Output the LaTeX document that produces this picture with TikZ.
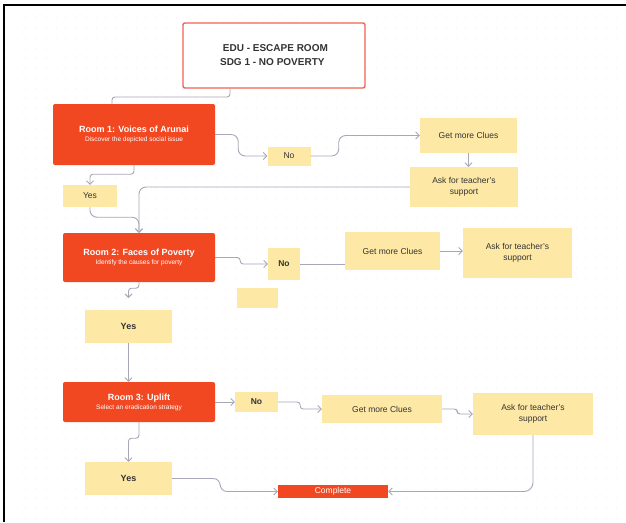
\documentclass[tikz,border=0pt]{standalone}
\usepackage{fontspec}
\setmainfont{Liberation Sans}
\usetikzlibrary{arrows.meta}
\definecolor{fred}{HTML}{F24822}
\definecolor{fyel}{HTML}{FDE8A5}
\definecolor{fline}{HTML}{A6A8B8}
\definecolor{ftitle}{HTML}{EE6352}
\definecolor{ftext}{HTML}{333333}
\begin{document}
\begin{tikzpicture}[x=1pt,y=-1pt,
  roombox/.style={fill=fred,rounded corners=2pt,inner sep=0pt,text=white,align=center,font=\fontsize{9}{10}\selectfont\bfseries},
  stickbox/.style={fill=fyel,inner sep=0pt,text=ftext,align=center,font=\fontsize{8.5}{11}\selectfont},
  conn/.style={draw=fline,line width=0.9pt,rounded corners=7pt},
  arr/.style={conn,-{Straight Barb[length=3.5pt,width=7pt,line width=0.9pt]}},
  tight/.style={rounded corners=3pt}]
\useasboundingbox (0,0) rectangle (626,522);
\fill[white] (0,0) rectangle (626,522);
% dot grid
\foreach \i in {0,...,61}{\foreach \j in {0,...,51}{\fill[black!13] (6+\i*10,8+\j*10) circle (0.5);}}
% frame (top and left edges)
\draw[black,line width=2.2pt] (626,5) -- (4,5) -- (4,522);
% nodes
\node[draw=ftitle,line width=1.4pt,fill=white,rounded corners=2pt,minimum width=182pt,minimum height=65pt,align=left,text=ftext,font=\fontsize{10}{14}\selectfont\bfseries] (title) at (274,55.5) {\ EDU - ESCAPE ROOM\\SDG 1 - NO POVERTY};
\node[roombox,minimum width=162pt,minimum height=61pt] (r1) at (134,134.5) {Room 1: Voices of Arunai\\[-1pt]{\fontsize{6.5}{7.5}\selectfont\mdseries Discover the depicted social issue}};
\node[stickbox,minimum width=43pt,minimum height=19pt] (no1) at (289,156) {No};
\node[stickbox,minimum width=97pt,minimum height=35pt] (get1) at (468.5,135.5) {Get more Clues};
\node[stickbox,minimum width=108pt,minimum height=40pt] (ask1) at (464,187) {Ask for teacher's\\support};
\node[stickbox,minimum width=54pt,minimum height=22pt] (yes1) at (90,196) {Yes};
\node[roombox,minimum width=152pt,minimum height=49pt] (r2) at (139,257.5) {Room 2: Faces of Poverty\\[-1pt]{\fontsize{6.5}{7.5}\selectfont\mdseries Identify the causes for poverty}};
\node[stickbox,minimum width=32pt,minimum height=32pt,font=\fontsize{8.5}{11}\selectfont\bfseries] (no2) at (284,264) {No};
\node[stickbox,minimum width=41pt,minimum height=20pt] (empty) at (257.5,298) {};
\node[stickbox,minimum width=95pt,minimum height=38pt] (get2) at (392.5,251) {Get more Clues};
\node[stickbox,minimum width=109pt,minimum height=50pt] (ask2) at (517.5,253) {Ask for teacher's\\support};
\node[stickbox,minimum width=87pt,minimum height=33pt,font=\fontsize{9}{11}\selectfont\bfseries] (yes2) at (128.5,326.5) {Yes};
\node[roombox,minimum width=152pt,minimum height=40pt] (r3) at (139,402) {Room 3: Uplift\\[-1pt]{\fontsize{6.5}{7.5}\selectfont\mdseries Select an eradication strategy}};
\node[stickbox,minimum width=43pt,minimum height=20pt,font=\fontsize{8.5}{11}\selectfont\bfseries] (no3) at (256.5,402) {No};
\node[stickbox,minimum width=120pt,minimum height=28pt] (get3) at (382,409) {Get more Clues};
\node[stickbox,minimum width=120pt,minimum height=42pt] (ask3) at (533,414) {Ask for teacher's\\support};
\node[stickbox,minimum width=87pt,minimum height=33pt,font=\fontsize{9}{11}\selectfont\bfseries] (yes3) at (128.5,478.5) {Yes};
\node[fill=fred,inner sep=0pt,minimum width=110pt,minimum height=13pt,text=white,font=\fontsize{8.5}{10}\selectfont] (complete) at (333,491.5) {Complete};
% helper coordinates
\coordinate (t1) at (112,97);
\coordinate (a2) at (128.5,298);
% connectors
\draw[conn,tight] ([xshift=-44pt]title.south) |- (t1) -- (t1 |- r1.north);
\draw[arr] (r1.east) -- ++(23,0) |- (no1.west);
\draw[arr] (no1.east) -- ++(28,0) |- (get1.west);
\draw[arr,rounded corners=0pt] (get1.south) -- (ask1.north -| get1.south);
\draw[arr] (ask1.west) -| (r2.north);
\draw[arr,tight] (r1.south) -- ++(0,9) -| (yes1.north);
\draw[arr] (yes1.south) -- ++(0,10) -| (r2.north);
\draw[arr,tight] (r2.east) -- ++(25,0) |- (no2.west);
\draw[conn] (no2.east) -- (no2.east -| get2.west);
\draw[arr] (get2.east) -- (get2.east -| ask2.west);
\draw[arr,tight] (r2.south) -- ++(0,6) -| (a2);
\draw[arr] (yes2.south) -- (yes2.south |- r3.north);
\draw[arr] (r3.east) -- (no3.west);
\draw[arr,tight] (no3.east) -- ++(22,0) |- (get3.west);
\draw[arr,tight] (get3.east) -- ++(15,0) |- (ask3.west);
\draw[arr,tight] (r3.south) -- ++(0,16) -| (yes3.north);
\draw[arr] (yes3.east) -- ++(48,0) |- (complete.west);
\draw[arr,rounded corners=9pt] (ask3.south) |- (complete.east);
\end{tikzpicture}
\end{document}
